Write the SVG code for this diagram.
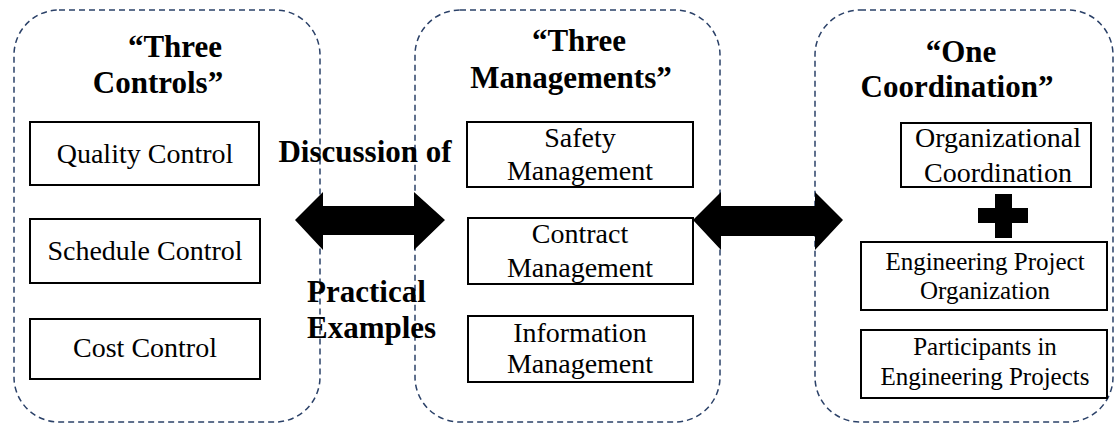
<svg xmlns="http://www.w3.org/2000/svg" width="1115" height="424" viewBox="0 0 1115 424">
  <style>
    .group { fill: none; stroke: #2B4168; stroke-width: 1.5; stroke-dasharray: 6 4; }
    .box { fill: #FFFFFF; stroke: #000000; stroke-width: 2; }
    text { font-family: 'Liberation Serif', 'Times New Roman', serif; fill: #000000; }
    .title { font-weight: bold; font-size: 31px; }
    .label { font-size: 28px; text-anchor: middle; }
    .small { font-size: 25px; }
    .mid { text-anchor: middle; }
    .arrow { fill: #000000; stroke: none; }
  </style>
  <rect width="1115" height="424" fill="#FFFFFF"/>

  <!-- Three Controls -->
  <g id="three-controls">
    <rect class="group" x="14" y="10" width="306" height="412" rx="45" ry="45"/>
    <text class="title mid" x="175" y="57">“Three</text>
    <text class="title mid" x="158" y="93">Controls”</text>
  </g>
  <g id="quality-control">
    <rect class="box" x="30" y="122" width="229" height="63"/>
    <text class="label" x="145" y="163">Quality Control</text>
  </g>
  <g id="schedule-control">
    <rect class="box" x="30" y="219" width="230" height="64"/>
    <text class="label" x="145" y="260">Schedule Control</text>
  </g>
  <g id="cost-control">
    <rect class="box" x="30" y="319" width="230" height="60"/>
    <text class="label" x="145" y="357">Cost Control</text>
  </g>

  <!-- Three Managements -->
  <g id="three-managements">
    <rect class="group" x="415" y="10" width="305" height="412" rx="45" ry="45"/>
    <text class="title mid" x="579" y="51">“Three</text>
    <text class="title mid" x="571" y="88">Managements”</text>
  </g>
  <g id="safety-management">
    <rect class="box" x="467" y="122" width="226" height="65"/>
    <text class="label" x="580" y="147">Safety</text>
    <text class="label" x="580" y="180">Management</text>
  </g>
  <g id="contract-management">
    <rect class="box" x="468" y="218" width="225" height="66"/>
    <text class="label" x="580" y="243">Contract</text>
    <text class="label" x="580" y="277">Management</text>
  </g>
  <g id="information-management">
    <rect class="box" x="468" y="316" width="225" height="66"/>
    <text class="label" x="580" y="342">Information</text>
    <text class="label" x="580" y="373">Management</text>
  </g>

  <!-- One Coordination -->
  <g id="one-coordination">
    <rect class="group" x="815" y="10" width="298" height="412" rx="45" ry="45"/>
    <text class="title mid" x="961" y="62">“One</text>
    <text class="title mid" x="957" y="97">Coordination”</text>
  </g>
  <g id="organizational-coordination">
    <rect class="box" x="901" y="123" width="190" height="64"/>
    <text class="label" x="998" y="147">Organizational</text>
    <text class="label" x="998" y="182">Coordination</text>
  </g>
  <g id="plus">
    <rect class="arrow" x="995" y="194" width="17" height="44"/>
    <rect class="arrow" x="978" y="208" width="50" height="15"/>
  </g>
  <g id="engineering-project-organization">
    <rect class="box" x="861" y="242" width="246" height="68"/>
    <text class="label small" x="985" y="270">Engineering Project</text>
    <text class="label small" x="985" y="299">Organization</text>
  </g>
  <g id="participants">
    <rect class="box" x="861" y="330" width="246" height="68"/>
    <text class="label small" x="985" y="355">Participants in</text>
    <text class="label small" x="985" y="385">Engineering Projects</text>
  </g>

  <!-- Label between the first two groups -->
  <g id="discussion-label">
    <text class="title mid" x="365" y="162">Discussion of</text>
    <text class="title" x="307" y="302">Practical</text>
    <text class="title" x="307" y="338">Examples</text>
  </g>

  <!-- Double-headed block arrows -->
  <g id="connectors">
    <polygon class="arrow" points="295,220 323,192 323,206 414,206 414,192 445,220 414,250 414,235 323,235 323,250"/>
    <polygon class="arrow" points="693,220 721,192 721,206 815,206 815,192 843,220 815,250 815,236 721,236 721,250"/>
  </g>
</svg>
